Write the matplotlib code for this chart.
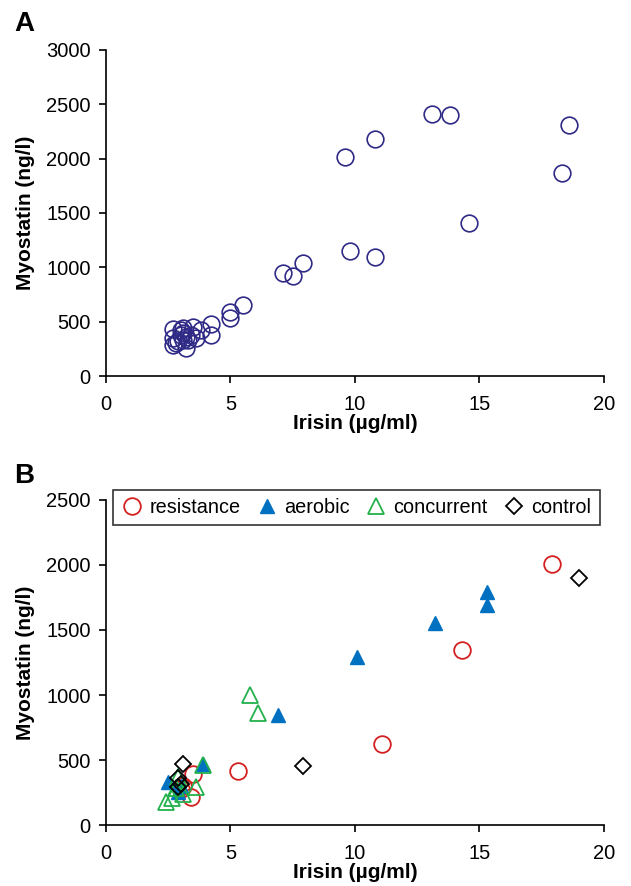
import matplotlib
matplotlib.use("Agg")
import matplotlib.pyplot as plt

plt.rcParams['font.family'] = ['Liberation Sans', 'DejaVu Sans']

# Panel A: all subjects
irisin_a = [13.1, 13.8, 18.6, 18.3, 14.6, 9.6, 10.8, 9.8, 10.8, 7.1, 7.5, 7.9,
            5.5, 5.0, 5.0, 4.2, 4.2, 2.7, 2.7, 2.7, 3.1, 3.1, 3.1, 3.2, 3.5,
            3.6, 3.4, 3.8, 2.9, 3.0, 3.3, 3.2, 2.8, 3.0]
myostatin_a = [2410, 2400, 2310, 1865, 1410, 2015, 2180, 1150, 1095, 948, 920, 1040,
               650, 585, 530, 480, 380, 430, 350, 290, 400, 440, 330, 260, 450,
               350, 380, 420, 320, 380, 330, 360, 300, 420]

# Panel B: by group
res_x = [17.9, 14.3, 11.1, 5.3, 3.5, 3.4, 3.1, 3.0]
res_y = [2010, 1345, 625, 415, 390, 215, 300, 280]
aer_x = [15.3, 15.3, 13.2, 10.1, 6.9, 3.9, 2.5, 2.9, 3.0]
aer_y = [1790, 1690, 1550, 1290, 845, 470, 330, 255, 300]
con_x = [5.8, 6.1, 2.4, 2.65, 2.8, 2.9, 3.6, 3.9, 3.1]
con_y = [1000, 860, 175, 210, 285, 370, 290, 460, 240]
ctl_x = [19.0, 7.9, 3.1, 2.9, 3.0, 2.9]
ctl_y = [1900, 455, 470, 360, 315, 290]

fig = plt.figure(figsize=(6.31, 8.86), dpi=100)
axA = fig.add_axes([0.168, 0.5756, 0.789, 0.368])
axB = fig.add_axes([0.168, 0.0688, 0.789, 0.3669])

navy = '#2e2a86'
axA.plot(irisin_a, myostatin_a, 'o', ms=12, mfc='none', mec=navy, mew=1.2)
axA.set_ylim(0, 3000)
axA.set_yticks(range(0, 3001, 500))

axB.plot(res_x, res_y, 'o', ms=12, mfc='none', mec='#d42020', mew=1.3, label='resistance')
axB.plot(aer_x, aer_y, '^', ms=10, mfc='#0070c0', mec='#0070c0', mew=1.0, label='aerobic')
axB.plot(con_x, con_y, '^', ms=11, mfc='none', mec='#22b14c', mew=1.3, label='concurrent')
axB.plot(ctl_x, ctl_y, 'D', ms=8, mfc='none', mec='black', mew=1.3, label='control')
axB.set_ylim(0, 2500)
axB.set_yticks(range(0, 2501, 500))
leg = axB.legend(loc='upper left', bbox_to_anchor=(0.014, 1.032), ncol=4, frameon=True,
                 fancybox=False, edgecolor='black', fontsize=14.3, handletextpad=0.3,
                 columnspacing=0.8, borderpad=0.42, handlelength=1.1, borderaxespad=0)
leg.get_frame().set_linewidth(1.2)

for ax in (axA, axB):
    ax.set_xlim(0, 20)
    ax.set_xticks(range(0, 21, 5))
    ax.spines['top'].set_visible(False)
    ax.spines['right'].set_visible(False)
    ax.spines['left'].set_linewidth(1.2)
    ax.spines['bottom'].set_linewidth(1.2)
    ax.tick_params(direction='out', length=5, width=1.2, labelsize=14.5)
    ax.tick_params(axis='x', pad=9)
    ax.tick_params(axis='y', pad=6)
    ax.set_xlabel('Irisin (µg/ml)', fontsize=15, fontweight='bold', labelpad=0)
    ax.set_ylabel('Myostatin (ng/l)', fontsize=15, fontweight='bold', labelpad=8)

fig.text(0.022, 0.965, 'A', fontsize=20, fontweight='bold')
fig.text(0.022, 0.455, 'B', fontsize=20, fontweight='bold')

fig.savefig('out.png', dpi=100)
